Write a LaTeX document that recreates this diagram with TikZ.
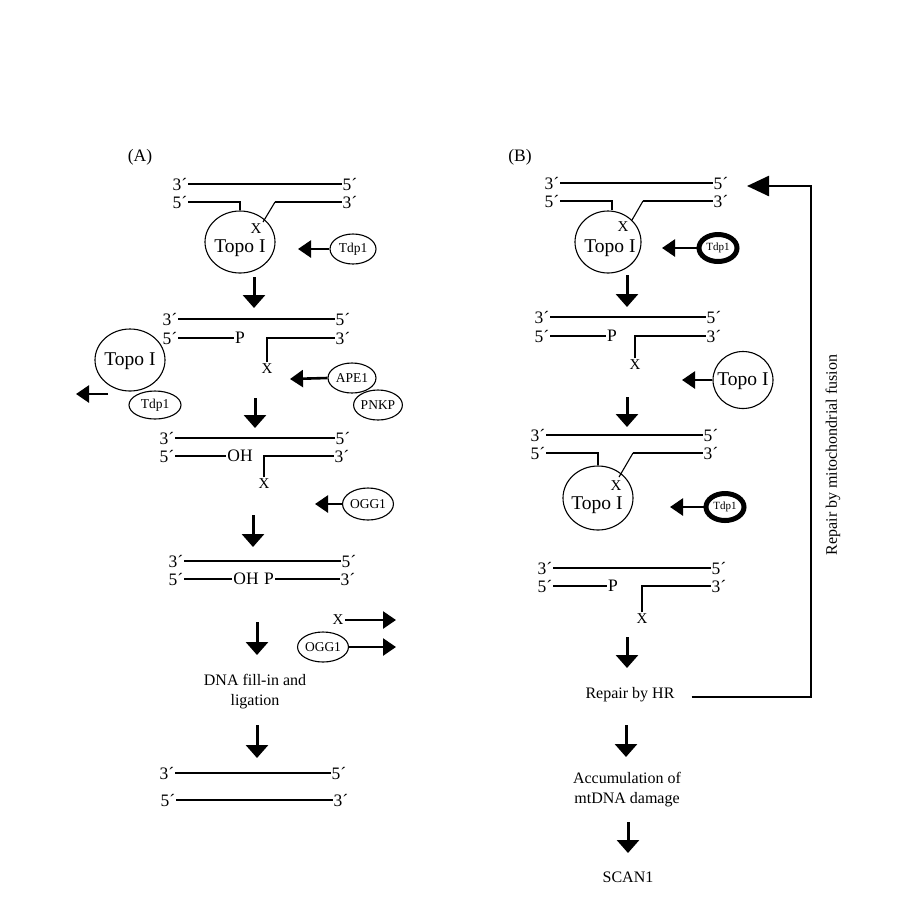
\documentclass[tikz,border=0pt]{standalone}
\usepackage{fontspec}
\setmainfont{Liberation Serif}
\usetikzlibrary{arrows.meta,shapes.geometric}
\begin{document}
\begin{tikzpicture}[x=1pt,y=-1pt,
 lab/.style={inner sep=1pt,font=\fontsize{17.5}{19}\selectfont},
 xlab/.style={inner sep=1.5pt,font=\fontsize{15}{17}\selectfont},
 ttxt/.style={inner sep=0pt,font=\fontsize{19.5}{21}\selectfont},
 txt/.style={align=center,inner sep=1pt,font=\fontsize{16}{20}\selectfont},
 strand/.style={line width=1.8pt},
 thin/.style={line width=1.1pt},
 topo/.style={ellipse,draw,line width=1.1pt,minimum width=70pt,minimum height=62pt,inner sep=0pt},
 enz/.style={ellipse,draw,line width=1.1pt,minimum width=46pt,minimum height=30pt,inner sep=0pt,font=\fontsize{13.5}{15}\selectfont},
 enzb/.style={ellipse,draw,line width=5pt,minimum width=38pt,minimum height=27pt,inner sep=0pt,font=\fontsize{11}{12}\selectfont},
 down/.style={line width=3pt,-{Triangle[length=13pt,width=22pt]}},
 side/.style={line width=2.6pt,-{Triangle[length=13pt,width=17pt]}},
 fb/.style={line width=2.5pt,-{Triangle[length=22pt,width=20pt]}},
]
\useasboundingbox (0,0) rectangle (915,906);

% ================= Panel A =================
\node[lab] (A) at (140,157) {(A)};
% structure 1
\node[lab] (a1l) at (180,184) {3´};
\node[lab] (a1r) at (350,184) {5´};
\node[lab] (a2l) at (180,202) {5´};
\node[lab] (a2r) at (350,202) {3´};
\draw[line width=2.4pt] (a1l.east) -- (a1r.west);
\node[topo] (tA1) at (240,242) {};
\node[ttxt] (tA1t) at (240,248) {Topo I};
\draw[strand] (a2l.east) -| (tA1.north);
\coordinate (kA1) at (275,202);
\coordinate (dgA1) at (263,222);
\draw[strand] (a2r.west) -- (kA1);
\draw[thin] (kA1) -- (dgA1);
\node[xlab] (xA1) at (256,229) {X};
\node[enz] (tdA1) at (353,249) {Tdp1};
\coordinate (tdA1t) at (298,249);
\draw[side] (tdA1.west) -- (tdA1t);
\coordinate (dA1s) at (254,277); \coordinate (dA1e) at (254,308);
\draw[down] (dA1s) -- (dA1e);

% structure 2
\node[lab] (a3l) at (170,319) {3´};
\node[lab] (a3r) at (343,319) {5´};
\node[lab] (a4l) at (170,338) {5´};
\node[lab] (pA2) at (240,338) {P};
\node[lab] (a4r) at (343,338) {3´};
\draw[strand] (a3l.east) -- (a3r.west);
\draw[strand] (a4l.east) -- (pA2.west);
\node[xlab] (xA2) at (267,369) {X};
\draw[strand] (xA2.north) |- (a4r.west);
\node[topo] (tA2) at (130,360) {};
\node[ttxt] (tA2t) at (130,361) {Topo I};
\coordinate (lAs) at (108,394); \coordinate (lAe) at (76,394);
\draw[side] (lAs) -- (lAe);
\node[enz,minimum width=52pt,minimum height=28pt] (tdA2) at (155,405) {Tdp1};
\node[enz,minimum width=48pt] (ape) at (352,378) {APE1};
\node[enz,minimum width=48pt] (pnkp) at (378,405) {PNKP};
\coordinate (apet) at (290,379);
\draw[side] (ape.west) -- (apet);
\coordinate (dA2s) at (255,398); \coordinate (dA2e) at (255,428);
\draw[down] (dA2s) -- (dA2e);

% structure 3
\node[lab] (a5l) at (167,438) {3´};
\node[lab] (a5r) at (343,438) {5´};
\node[lab] (a6l) at (167,456) {5´};
\node[lab] (ohA3) at (240,456) {OH};
\node[lab] (a6r) at (342,456) {3´};
\draw[strand] (a5l.east) -- (a5r.west);
\draw[strand] (a6l.east) -- (ohA3.west);
\node[xlab] (xA3) at (264,484) {X};
\draw[strand] (xA3.north) |- (a6r.west);
\node[enz,minimum height=32pt] (ogg1) at (368,504) {OGG1};
\coordinate (oggt) at (315,504);
\draw[side] (ogg1.west) -- (oggt);
\coordinate (dA3s) at (253,515); \coordinate (dA3e) at (253,547);
\draw[down] (dA3s) -- (dA3e);

% structure 4
\node[lab] (a7l) at (176,561) {3´};
\node[lab] (a7r) at (349,561) {5´};
\node[lab] (a8l) at (176,579) {5´};
\node[lab] (ohA4) at (246,579) {OH};
\node[lab] (pA4) at (269,579) {P};
\node[lab] (a8r) at (348,579) {3´};
\draw[strand] (a7l.east) -- (a7r.west);
\draw[strand] (a8l.east) -- (ohA4.west);
\draw[strand] (pA4.east) -- (a8r.west);
\coordinate (dA4s) at (257,622); \coordinate (dA4e) at (257,655);
\draw[down] (dA4s) -- (dA4e);
\node[xlab] (xA4) at (338,620) {X};
\coordinate (xA4t) at (396,620);
\draw[side] (xA4.east) -- (xA4t);
\node[enz] (ogg2) at (323,647) {OGG1};
\coordinate (ogg2t) at (396,647);
\draw[side] (ogg2.east) -- (ogg2t);

\node[txt] (fill) at (255,692) {DNA fill-in and\\ligation};
\coordinate (dA5s) at (257,725); \coordinate (dA5e) at (257,758);
\draw[down] (dA5s) -- (dA5e);
\node[lab] (a9l) at (167,773) {3´};
\node[lab] (a9r) at (339,773) {5´};
\node[lab] (a10l) at (168,800) {5´};
\node[lab] (a10r) at (341,800) {3´};
\draw[strand] (a9l.east) -- (a9r.west);
\draw[strand] (a10l.east) -- (a10r.west);

% ================= Panel B =================
\node[lab] (B) at (520,157) {(B)};
% structure 1
\node[lab] (b1l) at (552,183) {3´};
\node[lab] (b1r) at (721,183) {5´};
\node[lab] (b2l) at (552,201) {5´};
\node[lab] (b2r) at (721,201) {3´};
\draw[strand] (b1l.east) -- (b1r.west);
\node[topo,minimum width=66pt] (tB1) at (608,242) {};
\node[ttxt] (tB1t) at (610,248) {Topo I};
\draw[strand] (b2l.east) -| ([xshift=4pt]tB1.north);
\coordinate (kB1) at (643,201);
\coordinate (dgB1) at (632,220);
\draw[strand] (b2r.west) -- (kB1);
\draw[thin] (kB1) -- (dgB1);
\node[xlab] (xB1) at (623,227) {X};
\node[enzb] (tdB1) at (718,248) {Tdp1};
\coordinate (tdB1t) at (662,248);
\draw[side] (tdB1.west) -- (tdB1t);
\coordinate (dB1s) at (627,275); \coordinate (dB1e) at (627,307);
\draw[down] (dB1s) -- (dB1e);

% structure 2
\node[lab] (b3l) at (542,317) {3´};
\node[lab] (b3r) at (714,317) {5´};
\node[lab] (b4l) at (542,336) {5´};
\node[lab] (pB2) at (612,336) {P};
\node[lab] (b4r) at (714,336) {3´};
\draw[strand] (b3l.east) -- (b3r.west);
\draw[strand] (b4l.east) -- (pB2.west);
\node[xlab] (xB2) at (635,365) {X};
\draw[strand] (xB2.north) |- (b4r.west);
\node[topo,minimum width=60pt,minimum height=57pt] (tB2) at (743,380) {};
\node[ttxt] (tB2t) at (743,381) {Topo I};
\coordinate (tB2t2) at (682,380);
\draw[side] (tB2.west) -- (tB2t2);
\coordinate (dB2s) at (627,397); \coordinate (dB2e) at (627,427);
\draw[down] (dB2s) -- (dB2e);

% structure 3
\node[lab] (b5l) at (538,435) {3´};
\node[lab] (b5r) at (711,435) {5´};
\node[lab] (b6l) at (538,453) {5´};
\node[lab] (b6r) at (711,453) {3´};
\draw[strand] (b5l.east) -- (b5r.west);
\node[topo,minimum height=64pt] (tB3) at (598,498) {};
\node[ttxt] (tB3t) at (597,505) {Topo I};
\draw[strand] (b6l.east) -| (tB3.north);
\coordinate (kB3) at (633,453);
\coordinate (dgB3) at (619,477);
\draw[strand] (b6r.west) -- (kB3);
\draw[thin] (kB3) -- (dgB3);
\node[xlab] (xB3) at (616,486) {X};
\node[enzb] (tdB3) at (725,507) {Tdp1};
\coordinate (tdB3t) at (670,507);
\draw[side] (tdB3.west) -- (tdB3t);

% structure 4
\node[lab] (b7l) at (545,568) {3´};
\node[lab] (b7r) at (719,568) {5´};
\node[lab] (b8l) at (545,586) {5´};
\node[lab] (pB4) at (613,586) {P};
\node[lab] (b8r) at (719,586) {3´};
\draw[strand] (b7l.east) -- (b7r.west);
\draw[strand] (b8l.east) -- (pB4.west);
\node[xlab] (xB4) at (642,619) {X};
\draw[strand] (xB4.north) |- (b8r.west);
\coordinate (dB4s) at (627,637); \coordinate (dB4e) at (627,668);
\draw[down] (dB4s) -- (dB4e);

\node[txt] (hr) at (630,695) {Repair by HR};
\coordinate (fb1) at (811,697);
\coordinate (fb2) at (811,186);
\coordinate (fbt) at (747,186);
\draw[fb] ([xshift=16pt]hr.east |- fb1) -- (fb1) -- (fb2) -- (fbt);
\node[txt,rotate=90] (mito) at (833,455) {Repair by mitochondrial fusion};

\coordinate (dB5s) at (626,725); \coordinate (dB5e) at (626,757);
\draw[down] (dB5s) -- (dB5e);
\node[txt] (acc) at (627,790) {Accumulation of\\mtDNA damage};
\coordinate (dB6s) at (628,822); \coordinate (dB6e) at (628,853);
\draw[down] (dB6s) -- (dB6e);
\node[txt] (scan) at (628,877) {SCAN1};
\end{tikzpicture}
\end{document}
